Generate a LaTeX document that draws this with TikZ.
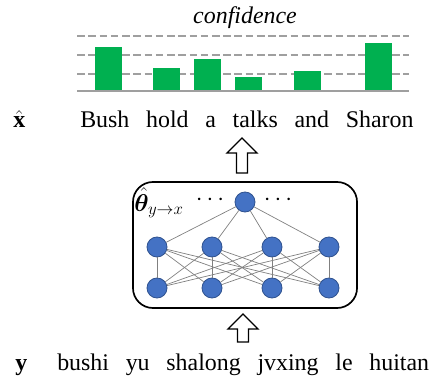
\documentclass[tikz,border=0pt]{standalone}
\usepackage{bm}
\usepackage{fontspec}
\setmainfont{Liberation Serif}
\usetikzlibrary{positioning}

\definecolor{barGreen}{RGB}{0,176,80}
\definecolor{unitBlue}{RGB}{68,114,196}
\definecolor{unitEdge}{RGB}{47,82,143}

\begin{document}
\begin{tikzpicture}[
  x=0.025cm, y=-0.025cm,
  unit/.style={circle, fill=unitBlue, draw=unitEdge, line width=0.6pt, minimum size=0.5cm, inner sep=0pt},
  link/.style={draw=gray, line width=0.5pt},
  bar/.style={fill=barGreen},
  guide/.style={draw=gray!75, dashed, dash pattern=on 5.5pt off 2.5pt, line width=0.8pt},
  sentence/.style={font=\fontsize{17}{20}\selectfont, inner sep=0pt, anchor=base west},
  label/.style={font=\fontsize{17}{20}\selectfont, inner sep=1pt},
  netbox/.style={draw, rounded corners=0.5cm, line width=1.2pt, minimum width=5.6cm, minimum height=3.15cm},
  hollowarrow/.style={draw=black, fill=white, line width=0.9pt, line join=miter}
]
\useasboundingbox (0,0) rectangle (432,380);

% Confidence chart
\node[font=\fontsize{17}{20}\selectfont\itshape] (conf) at (245,18) {confidence};
\foreach \y in {36,55,74}
  \draw[guide] (77,\y) -- (409,\y);
\foreach \l/\t in {95/47,153/68,194/59,235/77,294/71,365/43}
  \fill[bar] (\l,\t) rectangle ({\l+27},91);
\draw[gray!75, line width=1pt] (77,91) -- (409,91);

% Output sentence
\node[sentence] (xhat) at (13,128) {$\hat{\mathbf{x}}$};
\node[sentence] (target) at (80,128) {\spaceskip=0.7em\relax Bush hold a talks and Sharon};

% Network
\node[netbox] (net) at (245,245) {};
\node[unit] (out) at (245,202) {};
\foreach \x/\n in {157/1,212/2,272/3,329/4} {
  \node[unit] (h\n) at (\x,247) {};
  \node[unit] (in\n) at (\x,288) {};
}
\foreach \i in {1,...,4} {
  \draw[link] (out) -- (h\i);
  \foreach \j in {1,...,4}
    \draw[link] (h\i) -- (in\j);
}
\node[label] (theta) at (159,203) {$\hat{\bm{\theta}}_{y\to x}$};
\node[label] (ldots) at (210,200) {$\cdots$};
\node[label] (rdots) at (278,200) {$\cdots$};

% Hollow arrows
\draw[hollowarrow] (242,138) -- (257,153) -- (247.5,153) -- (247.5,173)
  -- (236.5,173) -- (236.5,153) -- (227,153) -- cycle;
\draw[hollowarrow] (243,314) -- (258,329) -- (248.5,329) -- (248.5,342)
  -- (237.5,342) -- (237.5,329) -- (228,329) -- cycle;

% Source sentence
\node[sentence] (ysrc) at (15,370) {$\mathbf{y}$};
\node[sentence] (source) at (57,370) {\spaceskip=0.7em\relax bushi yu shalong jvxing le huitan};

\end{tikzpicture}
\end{document}
